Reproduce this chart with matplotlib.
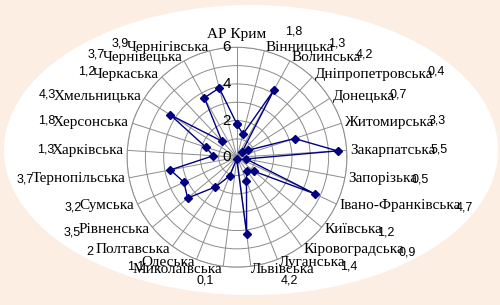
import numpy as np
import matplotlib
matplotlib.use('Agg')
import matplotlib.pyplot as plt
from matplotlib.patches import Ellipse

# Regions in chart order (clockwise from the top)
regions = ['АР Крим', 'Вінницька', 'Волинська', 'Дніпропетровська', 'Донецька',
           'Житомирська', 'Закарпатська', 'Запорізька', 'Івано-Франківська',
           'Київська', 'Кіровоградська', 'Луганська', 'Львівська', 'Миколаївська',
           'Одеська', 'Полтавська', 'Рівненська', 'Сумська', 'Тернопільська',
           'Харківська', 'Херсонська', 'Хмельницька', 'Черкаська', 'Чернівецька',
           'Чернігівська']
values = [1.8, 1.3, 4.2, 0.4, 0.7, 3.3, 5.5, 0.5, 4.7, 1.2, 0.9, 1.4, 4.2, 0.1,
          1.1, 2, 3.5, 3.2, 3.7, 1.3, 1.8, 4.3, 1.2, 3.7, 3.9]
r_ticks = [0, 2, 4, 6]
r_grid = [1, 2, 3, 4, 5, 6]

serif = 'Liberation Serif'
sans = 'Liberation Sans'
navy = '#000080'
grey = '#8c8c8c'

fig = plt.figure(figsize=(5, 3.05), dpi=100, facecolor='#FCEEE3')
fig.add_artist(Ellipse((0.502, 0.508), 0.988, 0.951, transform=fig.transFigure,
                       facecolor='white', edgecolor='none', zorder=-5))

ax = fig.add_axes([0.254, 0.124, 0.44, 0.721], projection='polar')
ax.set_facecolor('none')
ax.set_theta_zero_location('N')
ax.set_theta_direction(-1)

n = len(regions)
angles = np.arange(n) * 2 * np.pi / n

ax.plot(np.append(angles, angles[0]), values + [values[0]], color=navy, lw=1,
        marker='D', ms=4, mfc=navy, mec=navy, clip_on=False, zorder=5)

ax.set_ylim(0, 6)
ax.set_yticks(r_grid)
ax.set_yticklabels([])
ax.set_xticks(angles)
ax.set_xticklabels([])
ax.grid(color=grey, lw=0.7)
ax.spines['polar'].set_color(grey)
ax.spines['polar'].set_linewidth(0.7)

# radial scale labels along the top spoke
for v in r_ticks:
    ax.annotate(str(v), xy=(0, v), xycoords='data', xytext=(-6, 0),
                textcoords='offset pixels', ha='right', va='center',
                fontsize=11, family=sans)

# category labels + value labels
for a, name, v in zip(angles, regions, values):
    s = np.sin(a)
    if abs(s) < 0.01:
        t = ax.text(a, 6.35, name, ha='center', va='bottom', fontsize=11, family=serif)
        xy, off, va = (1, 0.5), (27, 3), 'center'
    else:
        t = ax.text(a, 6.2, name, ha='left' if s > 0 else 'right', va='center',
                    fontsize=11, family=serif)
        if abs(a - np.pi) < 0.2:
            xy, off, va = (0.6 if s > 0 else 0.8, 0), (0, 2), 'top'
        elif s > 0:
            xy, off, va = (1, 0.5), (3, 4 * np.cos(a)), 'center'
        else:
            xy, off, va = (0, 0.5), (-6, 4 * np.cos(a)), 'center'
    lbl = f'{v:g}'.replace('.', ',')
    ax.annotate(lbl, xy=xy, xycoords=t, xytext=off, textcoords='offset pixels',
                ha='center', va=va, fontsize=9, family=sans)

fig.savefig('out.png', dpi=100, facecolor=fig.get_facecolor())
